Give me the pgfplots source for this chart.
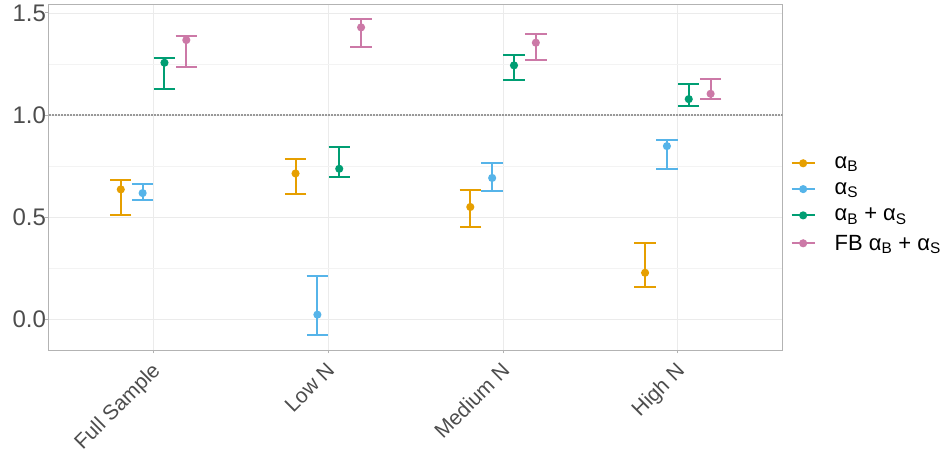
\documentclass[border=0pt]{standalone}
\usepackage{pgfplots}
\pgfplotsset{compat=1.18}
\usepackage{fontspec}
\setmainfont{Liberation Sans}
\definecolor{cOr}{HTML}{E69F00}
\definecolor{cBl}{HTML}{56B4E9}
\definecolor{cGr}{HTML}{009E73}
\definecolor{cPk}{HTML}{CC79A7}
\definecolor{txt}{HTML}{4D4D4D}
\definecolor{brd}{HTML}{B3B3B3}
\definecolor{grd}{HTML}{EBEBEB}
\begin{document}
\begin{tikzpicture}
\begin{axis}[
  scale only axis, width=734pt, height=345.7pt,
  at={(0pt,0pt)}, anchor=south west,
  xmin=0.4, xmax=4.6, ymin=-0.150, ymax=1.542,
  xtick={1,2,3,4}, xticklabels={Full Sample, Low N, Medium N, High N},
  ytick={0,0.5,1,1.5}, minor ytick={0.25,0.75,1.25},
  ticklabel style={text=txt},
  yticklabel style={font=\fontsize{24}{28}\selectfont, inner sep=1pt, xshift=2pt,
    /pgf/number format/.cd, fixed, fixed zerofill, precision=1, assume math mode=true},
  xticklabel style={font=\fontsize{21}{25}\selectfont, rotate=45, anchor=north east, inner sep=1pt, xshift=-6.4pt, yshift=-2.1pt},
  xtick pos=bottom, ytick pos=left,
  tick align=outside, major tick length=3.5pt, minor tick length=0pt,
  tick style={color=brd, line width=0.8pt},
  axis line style={draw=brd, line width=0.8pt},
  xmajorgrids, ymajorgrids, yminorgrids,
  major grid style={color=grd, line width=0.7pt},
  minor grid style={color=grd!60, line width=0.5pt},
  legend style={at={(1.0065,0.422)}, anchor=west, draw=none, fill=none,
    font=\fontsize{22}{26}\selectfont, row sep=8.5pt,
    /tikz/every odd column/.append style={column sep=17pt}},
  legend cell align=left,
  legend image code/.code={\draw[mark repeat=2,mark phase=2,#1] plot coordinates {(0pt,0pt) (11.5pt,0pt) (23pt,0pt)};},
  every axis plot/.append style={line width=2pt},
  error bars/error bar style={line width=2pt},
  error bars/error mark options={rotate=90, mark size=10.7pt, line width=2pt},
]
\addplot[gray!80, densely dotted, line width=1.2pt, forget plot] coordinates {(0.4,1) (4.6,1)};

% orange: alpha_B
\addplot[cOr, only marks, mark=*, mark size=3pt, forget plot,
  error bars/.cd, y dir=both, y explicit]
  table[x=x, y=y, y error plus=ep, y error minus=em] {
x y ep em
0.8125 0.636 0.044 0.126
1.8125 0.714 0.071 0.101
2.8125 0.550 0.081 0.097
3.8125 0.228 0.145 0.068
};
% blue: alpha_S
\addplot[cBl, only marks, mark=*, mark size=3pt, forget plot,
  error bars/.cd, y dir=both, y explicit]
  table[x=x, y=y, y error plus=ep, y error minus=em] {
x y ep em
0.9375 0.618 0.046 0.036
1.9375 0.023 0.190 0.098
2.9375 0.692 0.072 0.064
3.9375 0.848 0.031 0.112
};
% green: alpha_B + alpha_S
\addplot[cGr, only marks, mark=*, mark size=3pt, forget plot,
  error bars/.cd, y dir=both, y explicit]
  table[x=x, y=y, y error plus=ep, y error minus=em] {
x y ep em
1.0625 1.256 0.022 0.129
2.0625 0.737 0.105 0.039
3.0625 1.243 0.051 0.070
4.0625 1.078 0.075 0.034
};
% pink: FB alpha_B + alpha_S
\addplot[cPk, only marks, mark=*, mark size=3pt, forget plot,
  error bars/.cd, y dir=both, y explicit]
  table[x=x, y=y, y error plus=ep, y error minus=em] {
x y ep em
1.1875 1.367 0.018 0.131
2.1875 1.429 0.039 0.096
3.1875 1.354 0.041 0.083
4.1875 1.104 0.071 0.024
};

\addlegendimage{cOr, line width=2pt, mark=*, mark size=3pt}
\addlegendentry{α\textsubscript{B}}
\addlegendimage{cBl, line width=2pt, mark=*, mark size=3pt}
\addlegendentry{α\textsubscript{S}}
\addlegendimage{cGr, line width=2pt, mark=*, mark size=3pt}
\addlegendentry{α\textsubscript{B} + α\textsubscript{S}}
\addlegendimage{cPk, line width=2pt, mark=*, mark size=3pt}
\addlegendentry{FB α\textsubscript{B} + α\textsubscript{S}}
\end{axis}
\pgfresetboundingbox
\path[use as bounding box] (-48.7pt,-99pt) rectangle (894.3pt,350pt);
\end{tikzpicture}
\end{document}
